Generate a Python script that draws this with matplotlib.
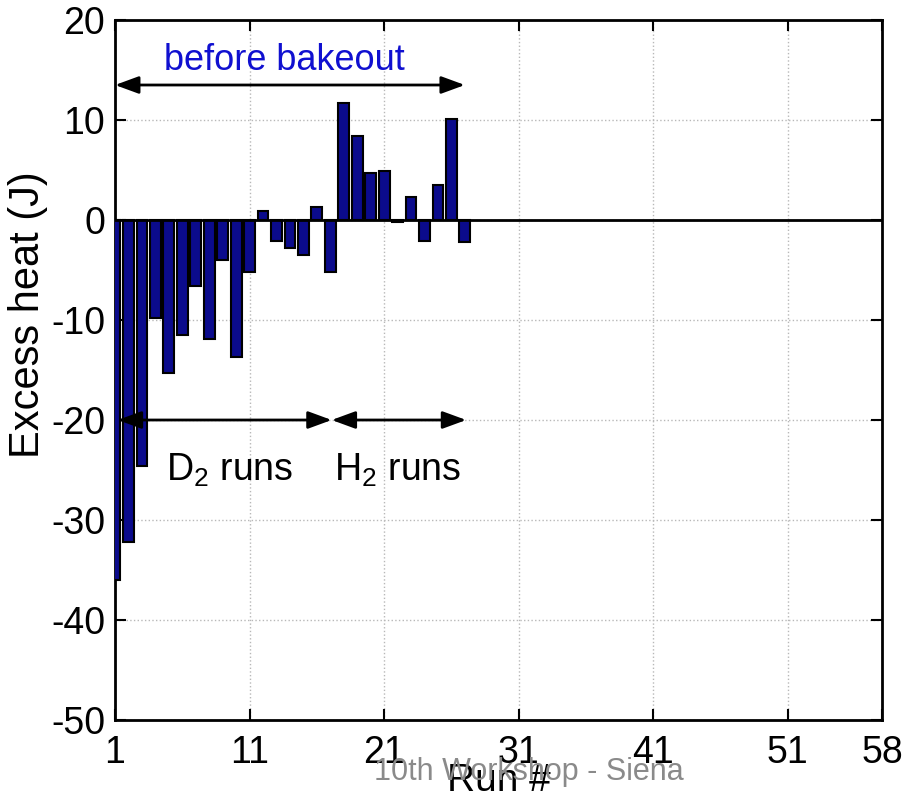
import matplotlib
matplotlib.use('Agg')
import matplotlib.pyplot as plt
import numpy as np

plt.rcParams['font.family'] = ['Liberation Sans', 'DejaVu Sans']
plt.rcParams['axes.unicode_minus'] = False
plt.rcParams['mathtext.fontset'] = 'custom'
plt.rcParams['mathtext.rm'] = 'Liberation Sans'
plt.rcParams['mathtext.it'] = 'Liberation Sans'

# excess heat per run (J), runs 1..27 before bakeout
runs = np.arange(1, 28)
excess_heat = [-36.0, -32.2, -24.6, -9.8, -15.3, -11.5, -6.6, -11.9, -4.0, -13.7,
               -5.2, 0.9, -2.1, -2.8, -3.5, 1.3, -5.2, 11.7, 8.4, 4.7,
               4.9, -0.2, 2.3, -2.1, 3.5, 10.1, -2.2]
xticks = [1, 11, 21, 31, 41, 51, 58]
yticks = [20, 10, 0, -10, -20, -30, -40, -50]

fig = plt.figure(figsize=(9.03, 7.97), dpi=100)
ax = fig.add_axes([0.1274, 0.0966, 0.8493, 0.8783])

ax.bar(runs, excess_heat, width=0.8, color='#0b0b8c', edgecolor='black', linewidth=1.5, zorder=3)
ax.axhline(0, color='black', linewidth=2, zorder=4)

ax.set_xlim(1, 58)
ax.set_ylim(-50, 20)
ax.set_xticks(xticks)
ax.set_yticks(yticks)
ax.grid(True, color='#b8b8b8', linestyle=':', linewidth=1)
ax.set_axisbelow(True)
ax.tick_params(direction='in', length=8, width=1.5, labelsize=27, top=True, right=True)
ax.tick_params(axis='y', pad=7)
ax.tick_params(axis='x', pad=11)
for s in ax.spines.values():
    s.set_linewidth(2)

ax.set_ylabel('Excess heat (J)', fontsize=30, va='center')
ax.yaxis.set_label_coords(-0.113, 0.579)
ax.set_xlabel('Run #', fontsize=28, labelpad=-6)

# run group arrows
arrow = dict(arrowstyle='<|-|>,head_length=0.6,head_width=0.22', color='black', lw=2,
             mutation_scale=24, shrinkA=0, shrinkB=0)
ax.annotate('', xy=(1.0, 13.5), xytext=(27.0, 13.5), arrowprops=arrow)
ax.text(13.6, 16.0, 'before bakeout', color='#1010d0', fontsize=26, ha='center', va='center')
ax.annotate('', xy=(1.2, -20), xytext=(17.1, -20), arrowprops=arrow)
ax.annotate('', xy=(17.1, -20), xytext=(27.1, -20), arrowprops=arrow)
ax.text(9.5, -25, 'D$_2$ runs', fontsize=27, ha='center', va='center')
ax.text(22.0, -25, 'H$_2$ runs', fontsize=27, ha='center', va='center')

fig.text(0.586, 0.031, '10th Workshop - Siena', color='#8a8a8a', fontsize=22,
         family=['Liberation Sans Narrow', 'Liberation Sans'], ha='center', va='center')

fig.savefig('out.png', dpi=100)
